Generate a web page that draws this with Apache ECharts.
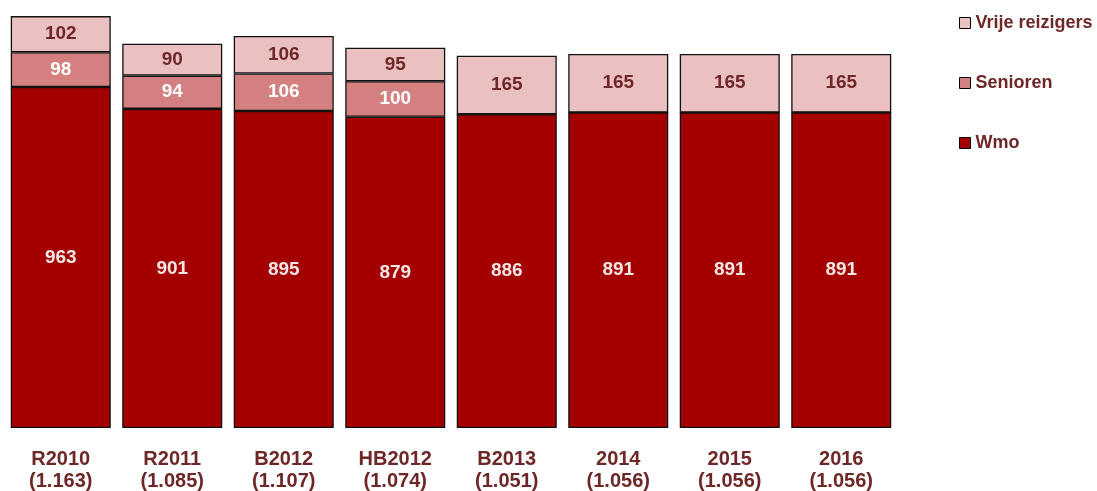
<!DOCTYPE html>
<html>
<head>
<meta charset="utf-8">
<script src="https://cdn.jsdelivr.net/npm/echarts@6/dist/echarts.min.js"></script>
<style>
html, body { margin: 0; padding: 0; background: #fff; }
#chart { width: 1097px; height: 491px; }
</style>
</head>
<body>
<div id="chart"></div>
<script>
// categorieen en waarden
var categories = ["R2010\n(1.163)", "R2011\n(1.085)", "B2012\n(1.107)", "HB2012\n(1.074)", "B2013\n(1.051)", "2014\n(1.056)", "2015\n(1.056)", "2016\n(1.056)"];
var wmo_values = [963, 901, 895, 879, 886, 891, 891, 891];
var senioren_values = [98, 94, 106, 100, 0, 0, 0, 0];
var vrije_values = [102, 90, 106, 95, 165, 165, 165, 165];

var text_color = "#6E2626";
var font = "Liberation Sans, Arial, sans-serif";

function bar_label(color) {
	return {
		show: true,
		position: "inside",
		color: color,
		fontFamily: font,
		fontWeight: "bold",
		fontSize: 19,
		formatter: function (p) {
			return p.value ? p.value : "";
		}
	};
}

var chart = echarts.init(document.getElementById("chart"));
var option = {
	animation: false,
	grid: {
		left: 5,
		right: 200,
		top: 3,
		bottom: 63,
		outerBoundsMode: "none"
	},
	legend: {
		orient: "vertical",
		left: 959,
		top: 13,
		padding: 0,
		itemWidth: 11,
		itemHeight: 11,
		itemGap: 40,
		icon: "rect",
		itemStyle: {
			borderColor: "#000",
			borderWidth: 1
		},
		textStyle: {
			color: text_color,
			fontFamily: font,
			fontWeight: "bold",
			fontSize: 18,
			lineHeight: 20
		},
		data: ["Vrije reizigers", "Senioren", "Wmo"]
	},
	xAxis: {
		type: "category",
		data: categories,
		axisLine: { show: false },
		axisTick: { show: false },
		axisLabel: {
			color: text_color,
			fontFamily: font,
			fontWeight: "bold",
			fontSize: 20,
			lineHeight: 22,
			margin: 20
		}
	},
	yAxis: {
		type: "value",
		min: 0,
		max: 1200,
		show: false
	},
	series: [
		{
			name: "Wmo",
			type: "bar",
			stack: "totaal",
			barWidth: 100,
			data: wmo_values,
			itemStyle: { color: "#A50000", borderColor: "#111", borderWidth: 1.3 },
			label: bar_label("#F4E6E6")
		},
		{
			name: "Senioren",
			type: "bar",
			stack: "totaal",
			data: senioren_values,
			itemStyle: { color: "#D48080", borderColor: "#111", borderWidth: 1.3 },
			label: bar_label("#fff")
		},
		{
			name: "Vrije reizigers",
			type: "bar",
			stack: "totaal",
			data: vrije_values,
			itemStyle: { color: "#EBC0C0", borderColor: "#111", borderWidth: 1.3 },
			label: bar_label(text_color)
		}
	]
};
chart.setOption(option, true);
</script>
</body>
</html>
